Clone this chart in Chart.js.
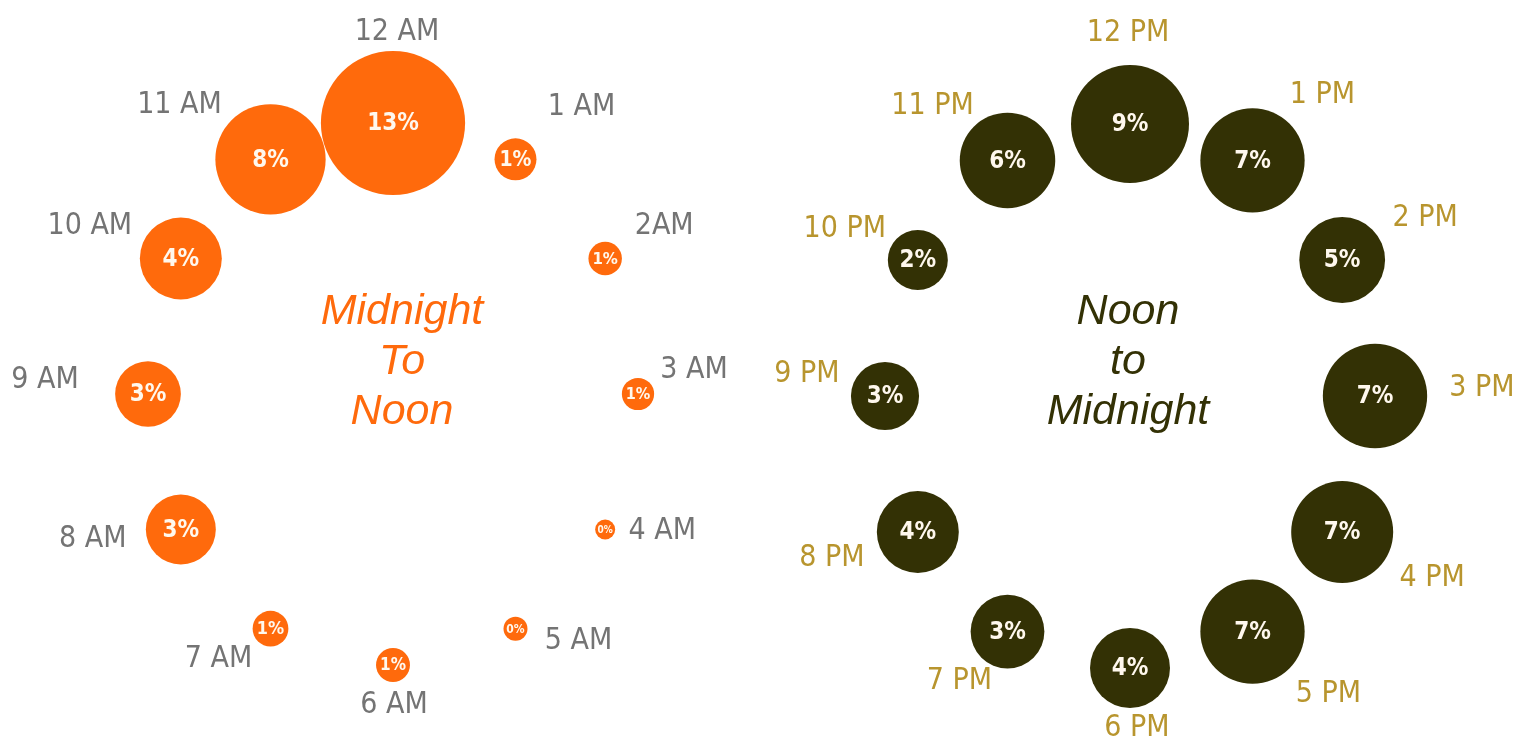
<!DOCTYPE html>
<html>
<head>
<meta charset="utf-8">
<script src="https://cdn.jsdelivr.net/npm/chart.js@4.4.1/dist/chart.umd.min.js"></script>
<style>
  html, body { margin: 0; padding: 0; background: #fff; }
  #wrap { width: 1536px; height: 742px; position: relative; }
</style>
</head>
<body>
<div id="wrap"><canvas id="clock"></canvas></div>
<script>
// share of activity per hour (percent)
const amHours = ["12 AM", "1 AM", "2AM", "3 AM", "4 AM", "5 AM", "6 AM", "7 AM", "8 AM", "9 AM", "10 AM", "11 AM"];
const amValues = [13, 1.1, 0.7, 0.65, 0.25, 0.36, 0.72, 0.8, 3.06, 2.7, 4.2, 7.6];

const pmHours = ["12 PM", "1 PM", "2 PM", "3 PM", "4 PM", "5 PM", "6 PM", "7 PM", "8 PM", "9 PM", "10 PM", "11 PM"];
const pmValues = [8.7, 6.8, 4.6, 6.8, 6.5, 6.8, 4.0, 3.4, 4.2, 2.9, 2.25, 5.7];

// layout of the two clock faces
const faces = [
  { cx: 393, cy: 394, rx: 245, ry: 271 },
  { cx: 1130, cy: 396, rx: 245, ry: 272 },
];
// where each hour name sits relative to its bubble
const amLabelOffsets = [[4, -91], [66, -52], [59, -32], [56, -24], [57, 2], [63, 13], [1, 40], [-52, 31], [-88, 10], [-103, -14], [-91, -32], [-91, -54]];
const pmLabelOffsets = [[-2, -91], [70, -65], [83, -42], [107, -8], [90, 46], [76, 63], [7, 60], [-48, 50], [-86, 26], [-78, -22], [-73, -31], [-75, -54]];

const orange = "#FF6A0C";
const olive = "#333105";
const labelFont = "'DejaVu Sans Condensed', 'Liberation Sans', sans-serif";

function clockPoints(values, face) {
  return values.map((v, i) => {
    const a = (i / 12) * 2 * Math.PI;
    return {
      x: face.cx + face.rx * Math.sin(a),
      y: face.cy - face.ry * Math.cos(a),
      r: 20 * Math.sqrt(v),
      v: v,
    };
  });
}

const labelsPlugin = {
  id: "clockLabels",
  afterDatasetsDraw(chart) {
    const ctx = chart.ctx;
    const sets = [
      { names: amHours, offs: amLabelOffsets, color: "#747474" },
      { names: pmHours, offs: pmLabelOffsets, color: "#B8952E" },
    ];
    ctx.save();
    ctx.textAlign = "center";
    ctx.textBaseline = "middle";
    sets.forEach((s, d) => {
      const meta = chart.getDatasetMeta(d);
      meta.data.forEach((el, i) => {
        const raw = chart.data.datasets[d].data[i];
        const size = Math.min(24, raw.r * 1.0);
        ctx.fillStyle = "#FFF8EE";
        ctx.font = "bold " + size + "px " + labelFont;
        ctx.fillText(Math.round(raw.v) + "%", el.x, el.y + 1);

        ctx.fillStyle = s.color;
        ctx.font = "30px " + labelFont;
        ctx.fillText(s.names[i], el.x + s.offs[i][0], el.y + s.offs[i][1]);
      });
    });

    // centre titles
    ctx.font = "italic 43px 'Liberation Sans'";
    ctx.fillStyle = orange;
    ["Midnight", "To", "Noon"].forEach((t, i) => ctx.fillText(t, 402, 312 + i * 50));
    ctx.fillStyle = olive;
    ["Noon", "to", "Midnight"].forEach((t, i) => ctx.fillText(t, 1128, 312 + i * 50));
    ctx.restore();
  },
};

new Chart(document.getElementById("clock"), {
  type: "bubble",
  data: {
    datasets: [
      {
        label: "Midnight To Noon",
        data: clockPoints(amValues, faces[0]),
        backgroundColor: orange,
        borderWidth: 0,
        hoverRadius: 0,
      },
      {
        label: "Noon to Midnight",
        data: clockPoints(pmValues, faces[1]),
        backgroundColor: olive,
        borderWidth: 0,
        hoverRadius: 0,
      },
    ],
  },
  options: {
    responsive: true,
    maintainAspectRatio: false,
    animation: false,
    clip: false,
    layout: { padding: 0, autoPadding: false },
    events: [],
    plugins: {
      legend: { display: false },
      tooltip: { enabled: false },
    },
    scales: {
      x: { type: "linear", min: 0, max: 1536, display: false },
      y: { type: "linear", min: 0, max: 742, reverse: true, display: false },
    },
  },
  plugins: [labelsPlugin],
});
</script>
</body>
</html>
